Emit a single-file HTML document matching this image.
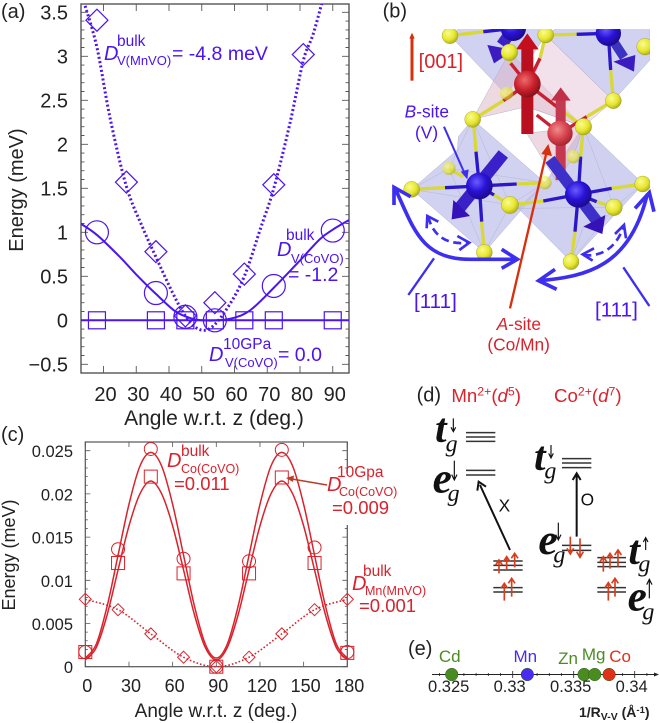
<!DOCTYPE html>
<html>
<head>
<meta charset="utf-8">
<style>
html,body{margin:0;padding:0;background:#fff;}
svg{display:block;font-family:"Liberation Sans",sans-serif;filter:blur(0.35px);}
</style>
</head>
<body>
<svg id="fig" xmlns="http://www.w3.org/2000/svg" width="660" height="723" viewBox="0 0 660 723">
<defs>
<radialGradient id="gy" cx="38%" cy="35%" r="70%"><stop offset="0" stop-color="#fbfb90"/><stop offset=".6" stop-color="#e6e62c"/><stop offset="1" stop-color="#a8a820"/></radialGradient>
<radialGradient id="gb" cx="40%" cy="35%" r="70%"><stop offset="0" stop-color="#6a5cff"/><stop offset=".5" stop-color="#2a12d8"/><stop offset="1" stop-color="#1a0a80"/></radialGradient>
<radialGradient id="gr" cx="40%" cy="35%" r="70%"><stop offset="0" stop-color="#ee6a6a"/><stop offset=".55" stop-color="#c8202c"/><stop offset="1" stop-color="#7a1018"/></radialGradient>
<radialGradient id="gr2" cx="40%" cy="35%" r="70%"><stop offset="0" stop-color="#f08a8a"/><stop offset=".6" stop-color="#d23c48"/><stop offset="1" stop-color="#98242e"/></radialGradient>
<clipPath id="clipA"><rect x="81" y="4" width="268" height="369"/></clipPath>
<clipPath id="clipB"><rect x="0" y="87" width="840" height="1050"/></clipPath>
</defs>

<!-- panel a -->
<g id="panelA"></g>
<!-- panel c -->
<g id="panelC"></g>

<g fill="#4b14f0">
<text x="1" y="18" font-size="20" fill="#222">(a)</text>
<text x="117" y="46" font-size="15.5">bulk</text>
<text x="104" y="60" font-size="20" font-style="italic">D</text>
<text x="117" y="65" font-size="13">V(MnVO)</text>
<text x="172" y="60" font-size="19.5">= -4.8 meV</text>
<text x="286" y="240" font-size="15.5">bulk</text>
<text x="277" y="256" font-size="20" font-style="italic">D</text>
<text x="291" y="263" font-size="13">V(CoVO)</text>
<text x="288" y="281" font-size="19.5">= -1.2</text>
<text x="223" y="349" font-size="15.5">10GPa</text>
<text x="209" y="361" font-size="20" font-style="italic">D</text>
<text x="225" y="367" font-size="13">V(CoVO)</text>
<text x="278" y="361" font-size="19.5">= 0.0</text>
</g>

<g fill="#d9222c">
<text x="1" y="441" font-size="20" fill="#222">(c)</text>
<rect x="342" y="473" width="12" height="52" fill="#fff"/>
<text x="181" y="456" font-size="15.5">bulk</text>
<text x="167" y="467" font-size="20" font-style="italic">D</text>
<text x="181" y="473" font-size="12.5">Co(CoVO)</text>
<text x="174" y="490" font-size="18.5">=0.011</text>
<text x="337" y="477" font-size="15.5">10Gpa</text>
<text x="327" y="491" font-size="20" font-style="italic">D</text>
<text x="339" y="496" font-size="12.5">Co(CoVO)</text>
<text x="332" y="514" font-size="18.5">=0.009</text>
<line x1="327" y1="485" x2="292" y2="479" stroke="#b5402a" stroke-width="1.6"/>
<polygon points="286,478 294,475.5 293,482" fill="#b5402a"/>
<text x="363" y="576" font-size="15.5">bulk</text>
<text x="352" y="590" font-size="20" font-style="italic">D</text>
<text x="365" y="595" font-size="12.5">Mn(MnVO)</text>
<text x="359" y="612" font-size="18.5">=0.001</text>
</g>

<!-- panel b: crystal structure, drawn at 3x inside a scaled group -->
<g transform="translate(370,0) scale(0.33333)">
<text x="38" y="52" font-size="60" fill="#222">(b)</text>
<g clip-path="url(#clipB)">
<g stroke="#a8a8bc" stroke-width="1.2">
<polygon points="240,107 410,285 527,105 470,60 300,60" fill="#c2c2ee" fill-opacity=".75"/>
<polygon points="527,105 730,302 840,180 840,60 600,60" fill="#c2c2ee" fill-opacity=".75"/>
<polygon points="308,358 265,410 262,450 125,568 343,757 525,548" fill="#c6c6ee" fill-opacity=".8"/>
<polygon points="640,380 820,552 603,785 445,625 525,548" fill="#c0c0ec" fill-opacity=".75"/>
<polygon points="308,358 418,157 640,380 470,320" fill="#dcb4c4" fill-opacity=".5"/>
<polygon points="527,105 730,302 640,380 470,320" fill="#e6c4d8" fill-opacity=".5"/>
<polygon points="470,400 640,380 610,470 560,545" fill="#dcb4c4" fill-opacity=".5"/>
<path d="M125,568 L420,615 M308,358 L420,615 L343,757 M420,615 L525,548 M125,568 L237,505 L525,548 M308,358 L237,505 L343,757 M640,380 L732,622 L603,785 M445,625 L732,622 L820,552 M640,680 L603,785" fill="none" stroke="#b0b0c4" stroke-width="1.2"/>
</g>
<g fill="none" stroke-width="10">
<path stroke="#d8d838" d="M240,107 L340,95 M527,105 L620,103 M418,157 L422,190 M527,105 L510,175 M722,210 L730,302 M310,358 L400,302 M730,302 L650,350 M640,380 L560,320 M310,358 L318,455 M125,568 L225,563 M235,505 L280,530 M420,615 L372,585 M343,757 L335,665 M640,380 L632,470 M603,785 L615,695 M820,552 L725,565 M420,615 L520,603 M732,622 L680,605 M525,548 L440,552"/>
<path stroke="#2a18c8" d="M340,95 L430,85 M620,103 L715,100 M715,100 L722,210 M318,455 L328,558 M225,563 L328,558 M372,585 L328,558 M335,665 L328,558 M440,552 L328,558 M632,470 L625,583 M615,695 L625,583 M725,565 L625,583 M520,603 L625,583 M680,605 L625,583"/>
<path stroke="#c82030" d="M472,252 L400,302 M472,252 L560,320 M472,252 L510,175 M472,252 L422,190 M570,400 L650,350 M570,400 L500,345"/>
</g>
<g>
<line x1="430" y1="85" x2="395" y2="135" stroke="#3a22c8" stroke-width="34"/>
<polygon points="352,135 432,150 372,190" fill="#3a1cc0"/>
<line x1="715" y1="100" x2="762" y2="172" stroke="#3a34c0" stroke-width="28"/>
<polygon points="730,185 796,165 792,215" fill="#3a1cc0"/>
<line x1="572" y1="540" x2="572" y2="300" stroke="#c43850" stroke-width="30"/>
<polygon points="543,302 602,302 572,262" fill="#c03048"/>
</g>
<g fill="url(#gy)" fill-opacity=".65">
<circle cx="410" cy="280" r="20"/>
<circle cx="610" cy="470" r="20"/>
<circle cx="237" cy="505" r="20"/>
<circle cx="525" cy="548" r="20"/>
</g>
<g>
<circle cx="430" cy="85" r="38" fill="url(#gb)"/>
<circle cx="715" cy="100" r="38" fill="url(#gb)"/>
<line x1="472" y1="402" x2="472" y2="145" stroke="#b8101e" stroke-width="36"/>
<polygon points="438,148 506,148 472,100" fill="#c4101e"/>
<circle cx="472" cy="252" r="40" fill="url(#gr)"/>
<circle cx="570" cy="400" r="38" fill="url(#gr2)"/>
<line x1="400" y1="462" x2="268" y2="625" stroke="#3a20c8" stroke-width="36"/>
<polygon points="245,658 250,600 300,648" fill="#3412b8"/>
<circle cx="328" cy="558" r="40" fill="url(#gb)"/>
<line x1="540" y1="478" x2="682" y2="665" stroke="#3d30c8" stroke-width="34"/>
<polygon points="640,680 706,645 697,702" fill="#3412b8"/>
<circle cx="625" cy="583" r="40" fill="url(#gb)"/>
</g>
<g fill="url(#gy)" stroke="#8c8c20" stroke-width="1">
<circle cx="240" cy="107" r="24"/>
<circle cx="527" cy="105" r="24"/>
<circle cx="418" cy="157" r="25"/>
<circle cx="825" cy="140" r="25"/>
<circle cx="730" cy="302" r="24"/>
<circle cx="308" cy="358" r="24"/>
<circle cx="640" cy="380" r="25"/>
<circle cx="125" cy="568" r="24"/>
<circle cx="818" cy="552" r="24"/>
<circle cx="420" cy="615" r="26"/>
<circle cx="732" cy="622" r="25"/>
<circle cx="343" cy="757" r="24"/>
<circle cx="603" cy="785" r="24"/>
</g>
</g>
<g fill="none" stroke="#3d2ff0">
<path stroke-width="11" d="M75,565 C130,680 150,778 300,778 L440,778 M395,748 L442,778 L395,805 M72,615 L72,562 L122,590"/>
<path stroke-width="11" d="M508,842 C650,830 780,800 832,582 M555,808 L506,842 L560,868 M795,625 L838,578 L852,635"/>
<path stroke-width="8" stroke-dasharray="24 14" d="M175,650 C190,715 240,735 295,728"/>
<path stroke-width="8" d="M170,685 L172,648 L205,665 M262,708 L298,728 L268,750"/>
<path stroke-width="8" stroke-dasharray="24 14" d="M640,765 C690,772 740,745 760,680"/>
<path stroke-width="8" d="M672,745 L638,763 L668,782 M735,702 L762,675 L768,715"/>
<line x1="192" y1="775" x2="115" y2="885" stroke-width="7"/>
<line x1="760" y1="802" x2="838" y2="918" stroke-width="7"/>
<line x1="222" y1="380" x2="286" y2="525" stroke-width="6"/>
<polygon points="292,538 272,515 296,508" fill="#3d2ff0" stroke="none"/>
</g>
<line x1="420" y1="925" x2="530" y2="455" stroke="#d8300f" stroke-width="7"/>
<polygon points="535,432 514,462 546,468" fill="#d8300f"/>
<line x1="126" y1="242" x2="126" y2="112" stroke="#d8300f" stroke-width="9"/>
<polygon points="126,98 118,116 134,116" fill="#d8300f"/>
<text x="146" y="204" font-size="60" fill="#d8222c">[001]</text>
<text x="104" y="352" font-size="52" fill="#4b14f0"><tspan font-style="italic">B</tspan>-site</text>
<text x="135" y="416" font-size="52" fill="#4b14f0">(V)</text>
<text x="132" y="924" font-size="62" fill="#4b14f0">[111]</text>
<text x="675" y="950" font-size="62" fill="#4b14f0">[111]</text>
<text x="380" y="990" font-size="52" fill="#d8222c"><tspan font-style="italic">A</tspan>-site</text>
<text x="352" y="1052" font-size="52" fill="#d8222c">(Co/Mn)</text>
</g>

<!-- panel d: level diagram -->
<g transform="translate(390,370) scale(0.33333)">
<text x="80" y="94" font-size="60" fill="#222">(d)</text>
<text x="184" y="96" font-size="56" fill="#d9222c">Mn<tspan font-size="37" dy="-20">2+</tspan><tspan dy="20">(</tspan><tspan font-style="italic">d</tspan><tspan font-size="37" dy="-20">5</tspan><tspan dy="20">)</tspan></text>
<text x="492" y="96" font-size="56" fill="#d9222c">Co<tspan font-size="37" dy="-20">2+</tspan><tspan dy="20">(</tspan><tspan font-style="italic">d</tspan><tspan font-size="37" dy="-20">7</tspan><tspan dy="20">)</tspan></text>
<g font-family="'Liberation Serif',serif" font-style="italic" fill="#111">
<text x="135" y="216" font-size="125" font-weight="bold">t</text>
<text x="167" y="245" font-size="72">g</text>
<text x="128" y="368" font-size="130" font-weight="bold">e</text>
<text x="173" y="393" font-size="72">g</text>
<text x="432" y="300" font-size="125" font-weight="bold">t</text>
<text x="463" y="325" font-size="72">g</text>
<text x="445" y="552" font-size="130" font-weight="bold">e</text>
<text x="490" y="577" font-size="72">g</text>
<text x="715" y="582" font-size="125" font-weight="bold">t</text>
<text x="745" y="604" font-size="72">g</text>
<text x="713" y="722" font-size="130" font-weight="bold">e</text>
<text x="757" y="748" font-size="72">g</text>
</g>
<g fill="none" stroke="#111" stroke-width="3.5">
<path d="M190,145 L190,183 M183,172 L190,185 L197,172"/>
<path d="M193,272 L193,328 M185,314 L193,330 L201,314"/>
<path d="M483,225 L483,262 M476,250 L483,264 L490,250"/>
<path d="M505,458 L505,508 M497,494 L505,510 L513,494"/>
<path d="M767,540 L767,505 M760,516 L767,503 L774,516"/>
<path d="M778,685 L778,630 M770,644 L778,628 L786,644"/>
</g>
<g stroke="#333" stroke-width="4.5">
<path d="M228,188 H316 M228,201 H316 M228,214 H316"/>
<path d="M228,301 H316 M228,315 H316"/>
<path d="M310,573 H398 M310,586 H398 M310,600 H398"/>
<path d="M310,653 H398 M310,666 H398"/>
<path d="M516,266 H604 M516,279 H604 M516,293 H604"/>
<path d="M516,526 H604 M516,541 H604"/>
<path d="M622,563 H708 M622,577 H708 M622,590 H708"/>
<path d="M622,653 H708 M622,666 H708"/>
</g>
<g fill="none" stroke="#d4401f" stroke-width="5">
<path d="M327,610 V572 M317,585 L327,570 L337,585 M350,600 V562 M340,575 L350,560 L360,575 M374,592 V552 M364,565 L374,550 L384,565"/>
<path d="M343,692 V642 M333,655 L343,640 L353,655 M365,680 V628 M355,640 L365,625 L375,640"/>
<path d="M541,500 V550 M531,535 L541,552 L551,535 M570,505 V560 M560,545 L570,562 L580,545"/>
<path d="M640,605 V562 M630,575 L640,560 L650,575 M660,596 V552 M650,565 L660,550 L670,565 M684,590 V542 M674,555 L684,540 L694,555"/>
<path d="M655,692 V640 M645,653 L655,638 L665,653 M675,680 V627 M665,640 L675,625 L685,640"/>
</g>
<g stroke="#111" stroke-width="6" fill="none">
<path d="M360,540 L270,345 M262,362 L266,335 L288,350"/>
<path d="M560,500 V316 M548,330 L560,310 L572,330"/>
</g>
<text x="326" y="424" font-size="52" fill="#111">X</text>
<text x="572" y="406" font-size="52" fill="#111">O</text>
</g>

<!-- panel e -->
<g id="panelE"></g>
<text x="408" y="655" font-size="20" fill="#222">(e)</text>
<text x="579" y="717" font-size="14" font-weight="bold" fill="#222">1/R<tspan font-size="10.5" dy="3">V-V</tspan><tspan dy="-3"> (Å</tspan><tspan font-size="9.5" dy="-4">-1</tspan><tspan dy="4">)</tspan></text>
</svg>

<script>
// ---------- Panel (a) data ----------
var aXTicks = [20, 30, 40, 50, 60, 70, 80, 90];
var aYTicks = [-0.5, 0, 0.5, 1, 1.5, 2, 2.5, 3, 3.5];
var aYTickLabels = ['\u22120.5', '0', '0.5', '1', '1.5', '2', '2.5', '3', '3.5'];
var aDiamondAngles = [18, 27, 36, 45, 54, 63, 72, 81];
var aDiamondValues = [3.41, 1.57, 0.78, 0.05, 0.2, 0.525, 1.54, 3.02];
var aCircleAngles = [18, 36, 45, 54, 72, 90];
var aCircleValues = [1.0, 0.31, 0.04, 0.0, 0.39, 1.02];
var aSquareAngles = [18, 36, 45, 54, 63, 72, 90];
var aSquareValues = [0, 0, 0, 0, 0, 0, 0];
var aSolidLineAngles = [13, 18, 25, 30, 36, 42, 47, 50, 55, 60, 65, 72, 80, 86, 90, 95];
var aSolidLineValues = [1.1, 0.97, 0.72, 0.52, 0.3, 0.1, 0.02, 0, 0, 0.03, 0.12, 0.37, 0.68, 0.92, 1.03, 1.14];
var aDottedLineAngles = [14, 18, 22, 27, 32, 36, 41, 45, 49, 53, 58, 63, 68, 72, 77, 81, 84, 87];
var aDottedLineValues = [3.62, 3.1, 2.3, 1.52, 1.05, 0.72, 0.32, 0.05, -0.1, -0.08, 0.15, 0.5, 1.05, 1.5, 2.25, 2.95, 3.25, 3.65];
var aZeroLineAngles = [13, 95];
var aZeroLineValues = [0, 0];

// ---------- Panel (c) data ----------
var cXTicks = [0, 30, 60, 90, 120, 150, 180];
var cYTicks = [0, 0.005, 0.01, 0.015, 0.02, 0.025];
var cYTickLabels = ['0', '0.005', '0.01', '0.015', '0.02', '0.025'];
var cAngles = [0, 22.5, 45, 67.5, 90, 112.5, 135, 157.5, 180];
var cCircleValues = [0.0017, 0.0136, 0.0252, 0.0125, 0, 0.0122, 0.0251, 0.0138, 0.0017];
var cSquareValues = [0.0017, 0.012, 0.022, 0.0108, 0, 0.0108, 0.0219, 0.012, 0.0016];
var cDiamondValues = [0.0078, 0.0066, 0.0038, 0.0011, 0, 0.0011, 0.0038, 0.0066, 0.0078];
var cLineAngles = [0, 7.5, 15, 22.5, 30, 37.5, 45, 52.5, 60, 67.5, 75, 82.5, 90, 97.5, 105, 112.5, 120, 127.5, 135, 142.5, 150, 157.5, 165, 172.5, 180];
var cUpperLineValues = [0.001, 0.0026, 0.007, 0.0129, 0.0188, 0.0232, 0.0248, 0.0232, 0.0188, 0.0129, 0.007, 0.0026, 0.001, 0.0026, 0.007, 0.0129, 0.0188, 0.0232, 0.0248, 0.0232, 0.0188, 0.0129, 0.007, 0.0026, 0.001];
var cLowerLineValues = [0.0008, 0.0022, 0.006, 0.0112, 0.0163, 0.02, 0.0215, 0.02, 0.0163, 0.0112, 0.006, 0.0022, 0.0008, 0.0022, 0.006, 0.0112, 0.0163, 0.02, 0.0215, 0.02, 0.0163, 0.0112, 0.006, 0.0022, 0.0008];

// ---------- Panel (e) data ----------
var eTicks = [0.325, 0.33, 0.335, 0.34];
var eTickLabels = ['0.325', '0.33', '0.335', '0.34'];
var eMinorTicks = [0.324, 0.326, 0.327, 0.328, 0.329, 0.331, 0.332, 0.333, 0.334, 0.336, 0.337, 0.338, 0.339, 0.341];
var eElements = ['Cd', 'Mn', 'Zn', 'Mg', 'Co'];
var eValues = [0.325, 0.3312, 0.33585, 0.33672, 0.3379];
var eColors = ['#4a8c22', '#4a2cf0', '#4a8c22', '#4a8c22', '#e0301a'];
var eLabelOffsets = [-2, -2, -16, -1, 11];

var NS = 'http://www.w3.org/2000/svg';
function el(parent, tag, attrs, txt) {
  var n = document.createElementNS(NS, tag);
  for (var k in attrs) n.setAttribute(k, attrs[k]);
  if (txt !== undefined) n.textContent = txt;
  parent.appendChild(n);
  return n;
}
function smoothPath(px, py) {
  var d = 'M' + px[0].toFixed(2) + ',' + py[0].toFixed(2);
  for (var i = 0; i < px.length - 1; i++) {
    var a = Math.max(i - 1, 0), b = Math.min(i + 2, px.length - 1);
    var c1x = px[i] + (px[i + 1] - px[a]) / 6, c1y = py[i] + (py[i + 1] - py[a]) / 6;
    var c2x = px[i + 1] - (px[b] - px[i]) / 6, c2y = py[i + 1] - (py[b] - py[i]) / 6;
    d += ' C' + c1x.toFixed(2) + ',' + c1y.toFixed(2) + ' ' + c2x.toFixed(2) + ',' + c2y.toFixed(2) + ' ' + px[i + 1].toFixed(2) + ',' + py[i + 1].toFixed(2);
  }
  return d;
}
function drawLine(parent, name, xs, ys, sx, sy, stroke, width, dash, clip) {
  var a = { d: smoothPath(xs.map(sx), ys.map(sy)), fill: 'none', stroke: stroke, 'stroke-width': width };
  if (dash) a['stroke-dasharray'] = dash;
  if (clip) a['clip-path'] = clip;
  var p = el(parent, 'path', a);
  
  
}
function drawMarker(parent, name, kind, x, y, s, stroke, width) {
  var m;
  if (kind === 'circle') m = el(parent, 'circle', { cx: x, cy: y, r: s });
  else if (kind === 'square') m = el(parent, 'rect', { x: x - s, y: y - s, width: 2 * s, height: 2 * s });
  else m = el(parent, 'polygon', { points: [x - s, y, x, y - s, x + s, y, x, y + s].join(' ') });
  m.setAttribute('fill', 'none');
  m.setAttribute('stroke', stroke);
  m.setAttribute('stroke-width', width);
  
  
}

// ---------- Draw panel (a) ----------
(function () {
  var g = document.getElementById('panelA');
  var L = 81, R = 349, T = 4, B = 373, col = '#4b14f0', frame = '#555';
  function x(v) { return 103.5 + (v - 20) * 3.275; }
  function y(v) { return 320.3 - v * 88; }
  var t;
  for (var v = -5; v <= 35; v++) {
    var yy = y(v / 10), len = (v % 5 === 0) ? 7 : 3.5;
    t = el(g, 'path', { d: 'M' + L + ',' + yy + 'h' + len + 'M' + R + ',' + yy + 'h' + (-len), stroke: frame, 'stroke-width': 0.9 });
    
    
  }
  aXTicks.forEach(function (v) {
    var t = el(g, 'path', { d: 'M' + x(v) + ',' + B + 'v-7M' + x(v) + ',' + T + 'v7', stroke: frame, 'stroke-width': 0.9 });
    
    
    var l = el(g, 'text', { x: x(v) + 2, y: 401, 'font-size': 20, 'text-anchor': 'middle', fill: '#222' }, String(v));
    
    
  });
  aYTicks.forEach(function (v, i) {
    var l = el(g, 'text', { x: 68, y: y(v) + 7, 'font-size': 20, 'text-anchor': 'end', fill: '#222' }, aYTickLabels[i]);
    
    
  });
  var f = el(g, 'rect', { x: L, y: T, width: R - L, height: B - T, fill: 'none', stroke: frame, 'stroke-width': 1.4 });
  
  
  var ty = el(g, 'text', { transform: 'translate(23,190) rotate(-90)', 'font-size': 20, 'text-anchor': 'middle', fill: '#222' }, 'Energy (meV)');
  
  
  var tx = el(g, 'text', { x: 214, y: 425, 'font-size': 21, 'text-anchor': 'middle', fill: '#222' }, 'Angle w.r.t. z (deg.)');
  
  
  drawLine(g, 'mnvo-fit-line', aDottedLineAngles, aDottedLineValues, x, y, col, 3, '2 2.4', 'url(#clipA)');
  drawLine(g, 'covo-fit-line', aSolidLineAngles, aSolidLineValues, x, y, col, 2, null, 'url(#clipA)');
  drawLine(g, 'covo-10gpa-line', aZeroLineAngles, aZeroLineValues, x, y, col, 2, null, 'url(#clipA)');
  aDiamondAngles.forEach(function (a, i) { drawMarker(g, 'mnvo-diamond', 'diamond', x(a), y(aDiamondValues[i]), 11, col, 1.2); });
  aCircleAngles.forEach(function (a, i) { drawMarker(g, 'covo-circle', 'circle', x(a), y(aCircleValues[i]), 11.5, col, 1.2); });
  aSquareAngles.forEach(function (a, i) { drawMarker(g, 'covo-10gpa-square', 'square', x(a), y(aSquareValues[i]), 8.5, col, 1.2); });
})();

// ---------- Draw panel (c) ----------
(function () {
  var g = document.getElementById('panelC');
  var L = 85.3, R = 347.3, T = 442, B = 666.7, col = '#d9222c', frame = '#555';
  function x(v) { return L + v * (R - L) / 180; }
  function y(v) { return B - v * 8640; }
  for (var m = 0; m <= 25; m++) {
    var yy = y(m / 1000), len = (m % 5 === 0) ? 5 : 2.5;
    var t = el(g, 'path', { d: 'M' + L + ',' + yy + 'h' + len + 'M' + R + ',' + yy + 'h' + (-len), stroke: frame, 'stroke-width': 0.8 });
    
    
  }
  cXTicks.forEach(function (v) {
    var t = el(g, 'path', { d: 'M' + x(v) + ',' + B + 'v-5M' + x(v) + ',' + T + 'v5', stroke: frame, 'stroke-width': 0.8 });
    
    
    var l = el(g, 'text', { x: x(v) + 2, y: 692, 'font-size': 18, 'text-anchor': 'middle', fill: '#222' }, String(v));
    
    
  });
  cYTicks.forEach(function (v, i) {
    var l = el(g, 'text', { x: 73, y: y(v) + 6.5, 'font-size': 16.5, 'text-anchor': 'end', fill: '#222' }, cYTickLabels[i]);
    
    
  });
  var f = el(g, 'rect', { x: L, y: T, width: R - L, height: B - T, fill: 'none', stroke: frame, 'stroke-width': 1.2 });
  
  
  var ty = el(g, 'text', { transform: 'translate(15,555) rotate(-90)', 'font-size': 18, 'text-anchor': 'middle', fill: '#222' }, 'Energy (meV)');
  
  
  var tx = el(g, 'text', { x: 216, y: 717, 'font-size': 19, 'text-anchor': 'middle', fill: '#222' }, 'Angle w.r.t. z (deg.)');
  
  
  drawLine(g, 'mn-mnvo-dotted-line', cAngles, cDiamondValues, x, y, col, 1.6, '1.6 2');
  drawLine(g, 'co-covo-upper-line', cLineAngles, cUpperLineValues, x, y, col, 1.5);
  drawLine(g, 'co-covo-lower-line', cLineAngles, cLowerLineValues, x, y, col, 1.5);
  cAngles.forEach(function (a, i) {
    drawMarker(g, 'co-covo-circle', 'circle', x(a), y(cCircleValues[i]), 6.5, col, 1);
    drawMarker(g, 'co-10gpa-square', 'square', x(a), y(cSquareValues[i]), 6.5, col, 1);
    drawMarker(g, 'mn-mnvo-diamond', 'diamond', x(a), y(cDiamondValues[i]), 6, col, 1);
  });
})();

// ---------- Draw panel (e) ----------
(function () {
  var g = document.getElementById('panelE');
  var Y = 674.5;
  function x(v) { return 451.7 + (v - 0.325) * 12200; }
  var a = el(g, 'path', { d: 'M432,' + Y + 'H656', stroke: '#222', 'stroke-width': 1 });
  
  
  var h = el(g, 'polygon', { points: '659,' + Y + ' 654,' + (Y - 2) + ' 654,' + (Y + 2), fill: '#222' });
  
  
  eMinorTicks.forEach(function (v) {
    var t = el(g, 'line', { x1: x(v), x2: x(v), y1: Y - 1.5, y2: Y + 1.5, stroke: '#222', 'stroke-width': 0.8 });
    
    
  });
  eTicks.forEach(function (v, i) {
    var t = el(g, 'line', { x1: x(v), x2: x(v), y1: Y - 3.5, y2: Y + 3.5, stroke: '#222', 'stroke-width': 0.8 });
    
    
    var l = el(g, 'text', { x: x(v) - 3, y: 692, 'font-size': 16.5, 'text-anchor': 'middle', fill: '#222' }, eTickLabels[i]);
    
    
  });
  eElements.forEach(function (name, i) {
    var c = el(g, 'circle', { cx: x(eValues[i]), cy: Y, r: 6.3, fill: eColors[i], stroke: '#2a5a12', 'stroke-width': 0.5 });
    
    
    var l = el(g, 'text', { x: x(eValues[i]) + eLabelOffsets[i], y: i === 3 ? 660 : (i === 2 ? 664 : 662), 'font-size': 17, 'text-anchor': 'middle', fill: eColors[i] }, name);
    
    
  });
})();
</script>
</body>
</html>
